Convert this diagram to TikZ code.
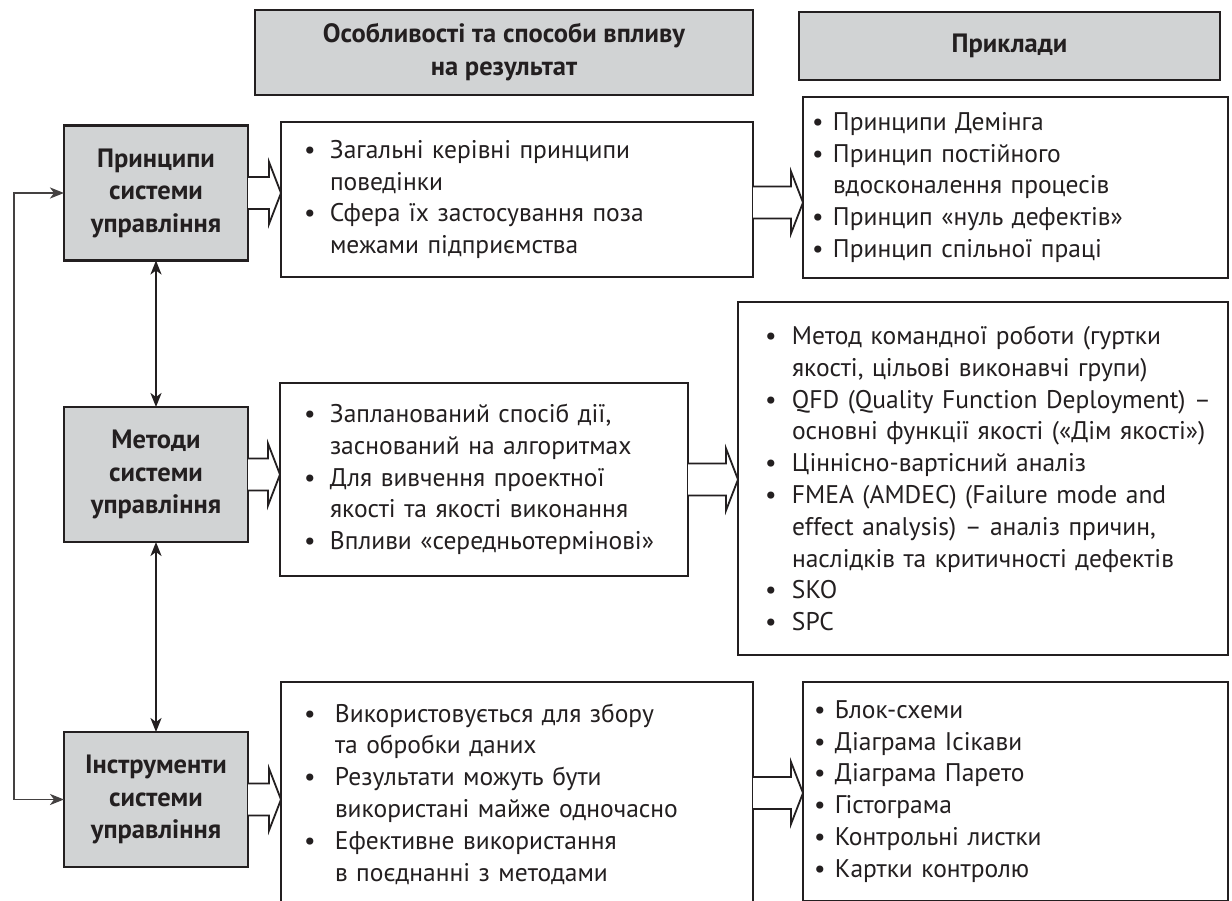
\documentclass[tikz,border=0pt]{standalone}
\usepackage{fontspec}
\setmainfont{PT Sans}
\usetikzlibrary{arrows.meta,calc}
\definecolor{ink}{HTML}{231F20}
\definecolor{boxgray}{HTML}{D1D3D4}
\newlength\bw
\newcommand\bi[1]{\mbox{\makebox[\bw][l]{•}#1}}
\newcommand\ci[1]{\mbox{\hspace*{\bw}#1}}
\newcommand\fatarrow[4]{%
  \coordinate (#4) at (0,#3);
  \draw[fat] ($(#1.east |- #4)+(0,-16)$) -- ($(#2.west |- #4)+(-12,-16)$)
    -- ($(#2.west |- #4)+(-12,-31)$) -- (#2.west |- #4)
    -- ($(#2.west |- #4)+(-12,31)$) -- ($(#2.west |- #4)+(-12,16)$)
    -- ($(#1.east |- #4)+(0,16)$);}
\tikzset{
  txt/.style={text=ink, font=\fontsize{25.5}{31.8}\selectfont},
  lbox/.style={draw=ink, line width=2.8pt, fill=boxgray, minimum width=184pt,
    minimum height=135pt, inner sep=0pt, outer sep=0pt, align=center, text=ink,
    font=\bfseries\fontsize{26.5}{32.5}\selectfont},
  hbox/.style={draw=ink, line width=2.8pt, fill=boxgray, inner sep=0pt, outer sep=0pt,
    align=center, text=ink, font=\bfseries\fontsize{26.5}{33}\selectfont},
  listbox/.style n args={4}{draw=ink, line width=2.5pt, fill=white, outer sep=0pt,
    inner xsep=#1, inner ysep=0pt, text width=#2, minimum height=#3, align=left, txt,
    execute at begin node={\setlength\bw{#4}}},
  conn/.style={draw=ink, line width=1.8pt},
  dtip/.style={{Stealth[length=14pt,width=11pt,inset=4pt]}-{Stealth[length=14pt,width=11pt,inset=4pt]}},
  fat/.style={draw=ink, line width=1.8pt, fill=white, line join=miter},
}
\begin{document}
\begin{tikzpicture}[x=1pt,y=-1pt]
\clip (0,0) rectangle (1232,901);
\fill[white] (0,0) rectangle (1232,901);

% headers
\node[hbox, minimum width=498pt, minimum height=85pt] (H1) at (504,52.5)
  {Особливості та способи впливу\\на результат};
\node[hbox, minimum width=421pt, minimum height=68pt] (H2) at (1009.5,46) {Приклади};

% left column
\node[lbox] (L1) at (156,193) {Принципи\\системи\\управління};
\node[lbox] (L2) at (156,474.5) {Методи\\системи\\управління};
\node[lbox] (L3) at (156,799.5) {Інструменти\\системи\\управління};

% middle column
\node[listbox={23pt}{426pt}{155pt}{26pt}] (M1) at (517,199.5) {%
  \bi{Загальні керівні принципи}\\
  \ci{поведінки}\\
  \bi{Сфера їх застосування поза}\\
  \ci{межами підприємства}};
\node[listbox={24pt}{360pt}{193pt}{26pt}] (M2) at (484,479.5) {%
  \bi{Запланований спосіб дії,}\\
  \ci{заснований на алгоритмах}\\
  \bi{Для вивчення проектної}\\
  \ci{якості та якості виконання}\\
  \bi{Впливи «середньотермінові»}};
\node[listbox={23pt}{426pt}{224pt}{31pt}] (M3) at (517,794) {%
  \bi{Використовується для збору}\\
  \ci{та обробки даних}\\
  \bi{Результати можуть бути}\\
  \ci{використані майже одночасно}\\
  \bi{Ефективне використання}\\
  \ci{в поєднанні з методами}};

% right column
\node[listbox={9pt}{407pt}{181pt}{21pt}] (R1) at (1015.5,187.5) {%
  \bi{Принципи Демінга}\\
  \bi{Принцип постійного}\\
  \ci{вдосконалення процесів}\\
  \bi{Принцип «нуль дефектів»}\\
  \bi{Принцип спільної праці}};
\node[listbox={27pt}{436pt}{353pt}{27pt}] (R2) at (983,478.5) {%
  \bi{Метод командної роботи (гуртки}\\
  \ci{якості, цільові виконавчі групи)}\\
  \bi{QFD (Quality Function Deployment) –}\\
  \ci{основні функції якості («Дім якості»)}\\
  \bi{Ціннісно-вартісний аналіз}\\
  \bi{FMEA (AMDEC) (Failure mode and}\\
  \ci{effect analysis) – аналіз причин,}\\
  \ci{наслідків та критичності дефектів}\\
  \bi{SKO}\\
  \bi{SPC}};
\node[listbox={11pt}{403pt}{219pt}{21pt}] (R3) at (1015.5,791.5) {%
  \bi{Блок-схеми}\\
  \bi{Діаграма Ісікави}\\
  \bi{Діаграма Парето}\\
  \bi{Гістограма}\\
  \bi{Контрольні листки}\\
  \bi{Картки контролю}};

% vertical double arrows
\draw[conn, dtip] (L1.south) -- (L2.north);
\draw[conn, dtip] (L2.south) -- (L3.north);
% feedback loop
\draw[conn, draw=ink!85, dtip] (L1.west) -- ++(-50,0) |- (L3.west);

% hollow arrows
\fatarrow{L1}{M1}{193}{a1}
\fatarrow{M1}{R1}{202.5}{a2}
\fatarrow{L2}{M2}{474.5}{a3}
\fatarrow{M2}{R2}{479.5}{a4}
\fatarrow{L3}{M3}{799.5}{a5}
\fatarrow{M3}{R3}{793}{a6}
\end{tikzpicture}
\end{document}
